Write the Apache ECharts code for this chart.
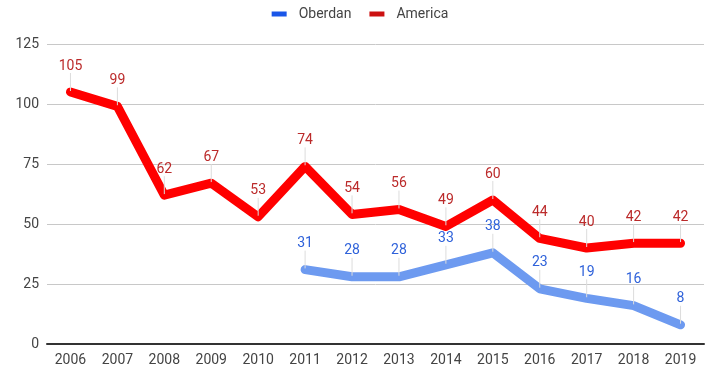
<!DOCTYPE html>
<html><head><meta charset="utf-8">
<script src="https://cdn.jsdelivr.net/npm/echarts@6/dist/echarts.min.js"></script>
<style>html,body{margin:0;padding:0;background:#fff}#c{width:720px;height:377px}</style>
</head><body><div id="c"></div>
<script>
const years = ['2006','2007','2008','2009','2010','2011','2012','2013','2014','2015','2016','2017','2018','2019'];
const oberdan = [null,null,null,null,null,31,28,28,33,38,23,19,16,8];
const america = [105,99,62,67,53,74,54,56,49,60,44,40,42,42];
const yTicks = [0,25,50,75,100,125];

const chart = echarts.init(document.getElementById('c'));
function lbl(color){
  return {show:true, position:'top', distance:6, color:color, fontSize:14, fontFamily:'Roboto'};
}
chart.setOption({
  animation:false,
  textStyle:{fontFamily:'Roboto'},
  legend:{top:2, left:'center', itemWidth:15, itemHeight:5, itemGap:18, icon:'rect',
    textStyle:{fontSize:14, color:'#444', fontFamily:'Roboto', padding:[0,0,0,7]},
    data:[{name:'Oberdan', itemStyle:{color:'#1a56e8'}},{name:'America', itemStyle:{color:'#cc1111'}}]},
  grid:{left:47, right:16, top:44, bottom:33},
  xAxis:{type:'category', data:years, boundaryGap:true,
    axisLine:{lineStyle:{color:'#333', width:2}}, axisTick:{show:false},
    axisLabel:{color:'#444', fontSize:14, margin:9}},
  yAxis:{type:'value', min:yTicks[0], max:yTicks[yTicks.length-1], interval:25,
    axisLine:{show:false}, axisTick:{show:false},
    axisLabel:{color:'#444', fontSize:14, margin:8},
    splitLine:{lineStyle:{color:'#c8c8c8', width:1}}},
  series:[
    {name:'Oberdan', type:'line', data:oberdan, symbol:'circle', showSymbol:true, symbolSize:2,
      lineStyle:{color:'#6d9af0', width:9, cap:'round', join:'round'}, itemStyle:{color:'#6d9af0'},
      label:lbl('#2f62da'), labelLayout:{dy:-12},
      labelLine:{show:true, lineStyle:{color:'#dcdcdc', width:1}}, z:2},
    {name:'America', type:'line', data:america, symbol:'circle', showSymbol:true, symbolSize:2,
      lineStyle:{color:'#ff0000', width:9, cap:'round', join:'round'}, itemStyle:{color:'#ff0000'},
      label:lbl('#bb2a2a'), labelLayout:{dy:-12},
      labelLine:{show:true, lineStyle:{color:'#dcdcdc', width:1}}, z:3}
  ]
});
</script></body></html>
